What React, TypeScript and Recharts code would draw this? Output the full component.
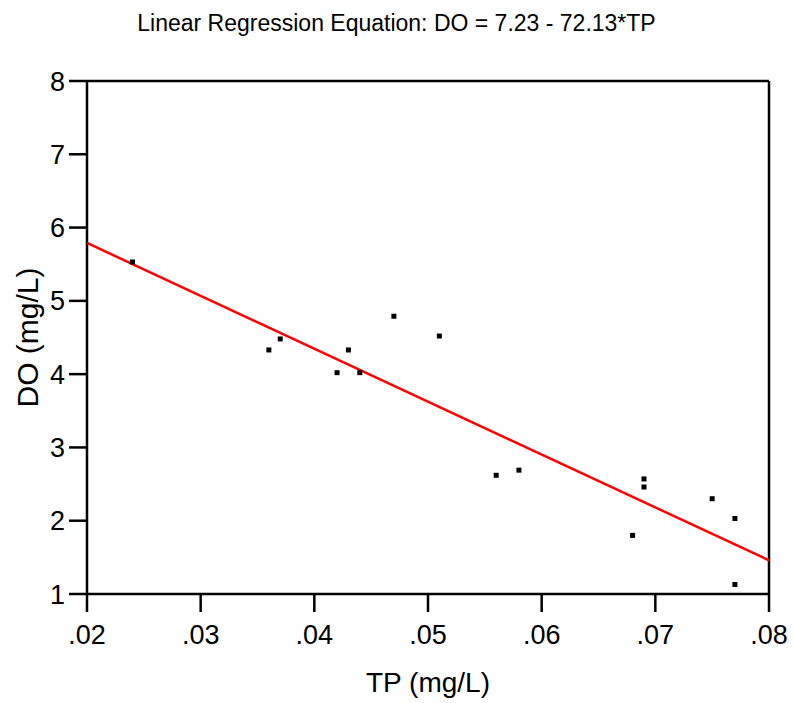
import React from 'react';
import {
  ScatterChart,
  Scatter,
  XAxis,
  YAxis,
  ReferenceLine,
} from 'recharts';

// Observed samples: total phosphorus vs dissolved oxygen
const tpValues = [0.024, 0.036, 0.037, 0.042, 0.043, 0.044, 0.047, 0.051, 0.056, 0.058, 0.068, 0.069, 0.069, 0.075, 0.077, 0.077];
const doValues = [5.53, 4.33, 4.48, 4.02, 4.33, 4.02, 4.79, 4.52, 2.62, 2.69, 1.8, 2.57, 2.46, 2.3, 2.03, 1.13];

// Fitted line endpoints across the axis range
const fitTp = [0.02, 0.08];
const fitDo = [5.79, 1.46];

const xTicks = [0.02, 0.03, 0.04, 0.05, 0.06, 0.07, 0.08];
const yTicks = [1, 2, 3, 4, 5, 6, 7, 8];

const points = tpValues.map((tp, i) => ({ tp, do: doValues[i] }));
const fitLine = fitTp.map((tp, i) => ({ tp, do: fitDo[i] }));

const FONT = 'Liberation Sans, Arial, sans-serif';

const SquareDot = (props: any) => {
  const { cx, cy } = props;
  if (cx == null || cy == null) return <g />;
  return <rect x={cx - 2.5} y={cy - 2.5} width={5} height={5} fill="#000" />;
};

export default function App() {
  return (
    <div style={{ position: 'absolute', left: 0, top: 0, width: 793, height: 703, background: '#fff', fontFamily: FONT }}>
      <div
        style={{
          position: 'absolute',
          top: 10,
          left: 0,
          width: 793,
          textAlign: 'center',
          fontSize: 23,
          color: '#000',
        }}
      >
        Linear Regression Equation: DO = 7.23 - 72.13*TP
      </div>
      <ScatterChart width={793} height={703} margin={{ top: 81, right: 24, bottom: 0, left: 0 }}>
        <XAxis
          type="number"
          dataKey="tp"
          domain={[0.02, 0.08]}
          ticks={xTicks}
          tickFormatter={(v: number) => v.toFixed(2).replace(/^0/, '')}
          stroke="#000"
          strokeWidth={2.5}
          tickSize={18}
          tickMargin={13}
          tick={{ fill: '#000', fontSize: 27, fontFamily: FONT }}
          height={109}
          allowDataOverflow
          label={{ value: 'TP (mg/L)', position: 'insideBottom', offset: 11, fill: '#000', fontSize: 28, fontFamily: FONT }}
        />
        <YAxis
          type="number"
          dataKey="do"
          domain={[1, 8]}
          ticks={yTicks}
          stroke="#000"
          strokeWidth={2.5}
          tickSize={18}
          tickMargin={4}
          tick={{ fill: '#000', fontSize: 27, fontFamily: FONT }}
          width={87}
          allowDataOverflow
          label={{ value: 'DO (mg/L)', angle: -90, position: 'insideLeft', offset: 27, fill: '#000', fontSize: 30, fontFamily: FONT, style: { textAnchor: 'middle' } }}
        />
        <ReferenceLine y={8} stroke="#000" strokeWidth={2.5} />
        <ReferenceLine x={0.08} stroke="#000" strokeWidth={2.5} />
        <Scatter
          data={fitLine}
          line={{ stroke: '#ff0000', strokeWidth: 2.5 }}
          shape={() => <g />}
          isAnimationActive={false}
        />
        <Scatter data={points} shape={SquareDot} isAnimationActive={false} />
      </ScatterChart>
    </div>
  );
}
